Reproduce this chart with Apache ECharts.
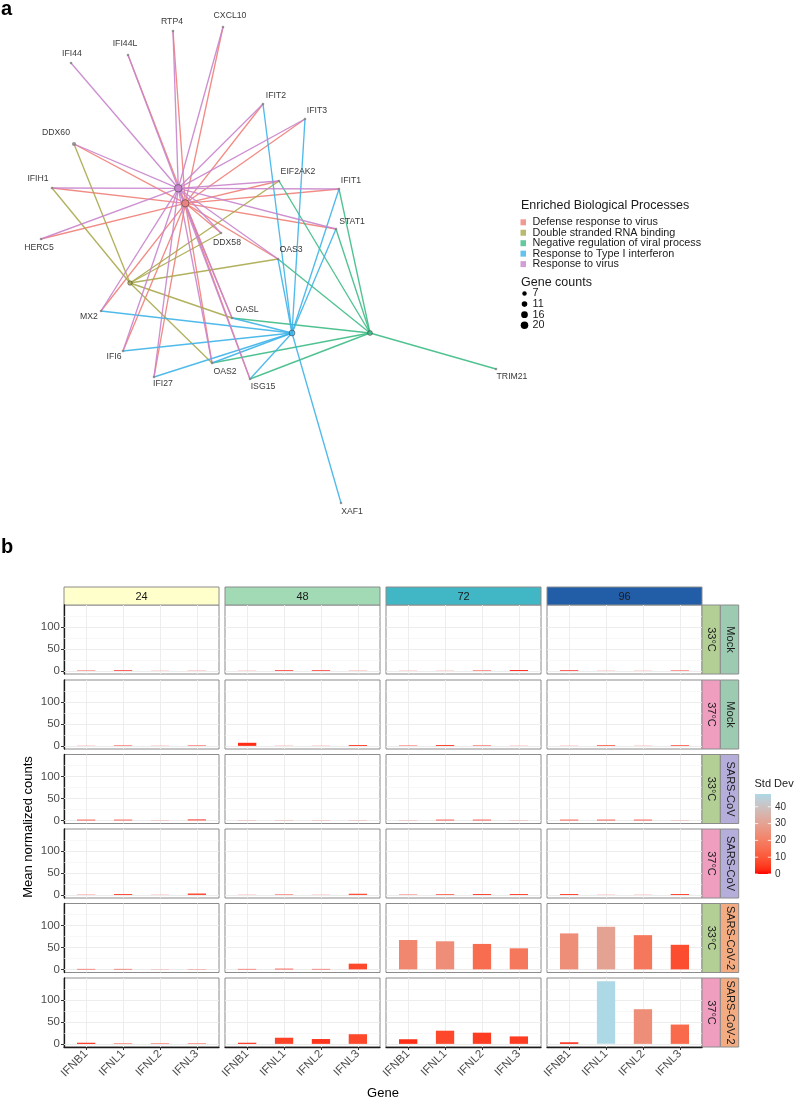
<!DOCTYPE html>
<html><head><meta charset="utf-8">
<script src="https://cdn.jsdelivr.net/npm/echarts@6/dist/echarts.min.js"></script>
<style>html,body{margin:0;padding:0;background:#fff}#c{width:794px;height:1100px}</style>
</head><body><div id="c"></div>
<script>
// ================= DATA: panel a (network) =================
const geneNames = ['RTP4','CXCL10','IFI44L','IFI44','IFIT2','IFIT3','DDX60','EIF2AK2','IFIT1','IFIH1','STAT1','HERC5','DDX58','OAS3','MX2','OASL','IFI6','OAS2','IFI27','ISG15','TRIM21','XAF1'];
// layout coordinates of the gene nodes
const geneX = [173,223,128,71,263,305,74,279,339,52,336,41,221,278,101,232,123,212,154,250,496,341];
const geneY = [31,27,55,63,104,119,144,181,189,188,229,239,233,259,311,318,351,363,377,379,369,503];
const processNames = ['Defense response to virus','Double stranded RNA binding','Negative regulation of viral process','Response to Type I interferon','Response to virus'];
const processX = [185.3,130,370,292,178.3];
const processY = [203.3,283,333,333,188.3];
const genesDefense = ['RTP4','CXCL10','IFI44L','IFIT2','IFIT3','DDX60','EIF2AK2','IFIT1','IFIH1','STAT1','HERC5','DDX58','OAS3','MX2','OASL','IFI6','OAS2','IFI27','ISG15'];
const genesDsRNA = ['DDX60','IFIH1','EIF2AK2','DDX58','OAS3','OASL','OAS2'];
const genesNegReg = ['EIF2AK2','IFIT1','STAT1','OAS3','OASL','OAS2','ISG15','TRIM21'];
const genesTypeI = ['IFIT2','IFIT3','IFIT1','STAT1','OAS3','MX2','IFI6','IFI27','OAS2','ISG15','OASL','XAF1'];
const genesResponse = ['RTP4','CXCL10','IFI44L','IFI44','IFIT2','IFIT3','DDX60','EIF2AK2','IFIT1','IFIH1','STAT1','HERC5','DDX58','OAS3','MX2','OASL','IFI6','OAS2','IFI27','ISG15'];
const geneCountBreaks = [7,11,16,20];

// ================= DATA: panel b (bars) =================
const genes = ['IFNB1','IFNL1','IFNL2','IFNL3'];
const hours = ['24','48','72','96'];
const rowVirus = ['Mock','Mock','SARS-CoV','SARS-CoV','SARS-CoV-2','SARS-CoV-2'];
const rowTemp = ['33°C','37°C','33°C','37°C','33°C','37°C'];
// mean normalized counts: [hour][gene]
const mean_Mock_33 = [[0.8,1.5,0.3,0.4],[0.3,1.5,1.5,0.4],[0.3,0.3,1,2],[1.5,0.3,0.3,1]];
const mean_Mock_37 = [[0.3,1,0.3,1],[7,0.3,0.3,2],[0.8,2,1,0.3],[0.3,1.5,0.3,1.5]];
const mean_SARS_33 = [[1.5,1.5,0.3,2],[0.3,0.3,0.3,0.3],[0.3,1.5,1.5,0.3],[1.5,1.5,1.5,0.3]];
const mean_SARS_37 = [[0.5,2,0.3,3],[0.3,1,0.3,2.5],[0.7,1.5,2,2],[2,0.3,0.3,2]];
const mean_SARS2_33 = [[1,1,0.3,0.5],[1,1.5,1,13],[67,64,58,48],[82,97,78,56]];
const mean_SARS2_37 = [[2.5,1,1,1],[2.5,14,11,22],[10.5,30,25.5,17],[3.5,143,79,44]];
// standard deviations: [hour][gene]
const sd_Mock_33 = [[1,1,0.5,0.5],[0.5,1,1,0.5],[0.5,0.5,1,1],[1,0.5,0.5,1.5]];
const sd_Mock_37 = [[0.5,1.5,0.5,1.5],[3,0.5,0.5,3],[1,3,1.5,0.5],[0.5,3,0.5,3]];
const sd_SARS_33 = [[1,1.5,0.5,1.5],[0.5,0.5,0.5,0.5],[0.5,1,1,0.5],[1,1,1,0.5]];
const sd_SARS_37 = [[1,4,0.5,4],[0.5,2,0.5,4],[1,3,3,3],[3,0.5,0.5,3]];
const sd_SARS2_33 = [[1,1,0.5,0.5],[1,2,1,7],[22,24,15,18],[24,30,18,8]];
const sd_SARS2_37 = [[2,3,3,3],[2,6,4,7],[3,7,5,5],[2,47.6,24,14]];
const yTicks = [0,50,100];
const yMinorTicks = [25,75,125];
const sdTicks = [0,10,20,30,40];

// ================= STYLE / LAYOUT =================
const FONT = '"Liberation Sans", Arial, Helvetica, sans-serif';
const processColors = ['#F08078','#A9A84C','#3DBB85','#3DB3E8','#C884CC'];
const labelOffset = {RTP4:[-1,-9],CXCL10:[7,-11],IFI44L:[-3,-11],IFI44:[1,-9],IFIT2:[13,-8],IFIT3:[12,-8],DDX60:[-18,-11],EIF2AK2:[19,-9],IFIT1:[12,-8],IFIH1:[-14,-9],STAT1:[16,-7],HERC5:[-2,9],DDX58:[6,10],OAS3:[13,-9],MX2:[-12,6],OASL:[15,-8],IFI6:[-9,6],OAS2:[13,9],IFI27:[9,7],ISG15:[13,8],TRIM21:[16,8],XAF1:[11,9]};
const hourColors = ['#FFFFCC','#A1DAB4','#41B6C4','#225EA8'];
const virusColors = {'Mock':'#9DCBB2','SARS-CoV':'#B5AEDA','SARS-CoV-2':'#F3AC82'};
const tempColors = {'33°C':'#B3CF95','37°C':'#F09EC0'};
const colLeft = [64,225,386,547];
const rowTop = [605,680,754.5,829,903.5,978];
const PW = 155, PH = 69;
const Y_MIN = -7.15, Y_MAX = 150.15;
const SD_MAX = 47.6;

// Lab interpolation (red -> lightblue), like ggplot's gradient
function hexToRgb(h){return [parseInt(h.slice(1,3),16),parseInt(h.slice(3,5),16),parseInt(h.slice(5,7),16)];}
function toLab(rgb){
  const lin = rgb.map(c=>{c/=255;return c<=0.04045?c/12.92:Math.pow((c+0.055)/1.055,2.4);});
  const X=(0.4124564*lin[0]+0.3575761*lin[1]+0.1804375*lin[2])/0.95047;
  const Y=(0.2126729*lin[0]+0.7151522*lin[1]+0.0721750*lin[2]);
  const Z=(0.0193339*lin[0]+0.1191920*lin[1]+0.9503041*lin[2])/1.08883;
  const f=t=>t>0.008856?Math.cbrt(t):7.787*t+16/116;
  const fx=f(X),fy=f(Y),fz=f(Z);
  return [116*fy-16,500*(fx-fy),200*(fy-fz)];
}
function fromLab(lab){
  const fy=(lab[0]+16)/116, fx=fy+lab[1]/500, fz=fy-lab[2]/200;
  const fi=t=>t*t*t>0.008856?t*t*t:(t-16/116)/7.787;
  const X=fi(fx)*0.95047,Y=fi(fy),Z=fi(fz)*1.08883;
  const r=3.2404542*X-1.5371385*Y-0.4985314*Z, g=-0.9692660*X+1.8760108*Y+0.0415560*Z, b=0.0556434*X-0.2040259*Y+1.0572252*Z;
  return '#'+[r,g,b].map(c=>{c=c<=0.0031308?12.92*c:1.055*Math.pow(c,1/2.4)-0.055;c=Math.round(Math.max(0,Math.min(1,c))*255);return c.toString(16).padStart(2,'0');}).join('');
}
const labLow = toLab(hexToRgb('#FF0000')), labHigh = toLab(hexToRgb('#ADD8E6'));
const gradColors = [];
for (let i=0;i<=20;i++){const t=i/20;gradColors.push(fromLab([0,1,2].map(k=>labLow[k]+(labHigh[k]-labLow[k])*t)));}

const meanRows = [mean_Mock_33,mean_Mock_37,mean_SARS_33,mean_SARS_37,mean_SARS2_33,mean_SARS2_37];
const sdRows = [sd_Mock_33,sd_Mock_37,sd_SARS_33,sd_SARS_37,sd_SARS2_33,sd_SARS2_37];
const processGeneLists = [genesDefense,genesDsRNA,genesNegReg,genesTypeI,genesResponse];
const sizeOf = n => 1.68*Math.sqrt(n);

// ================= BUILD OPTION =================
const grids=[], xAxes=[], yAxes=[], series=[], graphics=[], barIdx=[];
grids.push({left:0,top:0,width:794,height:540});
xAxes.push({gridIndex:0,type:'value',min:0,max:794,show:false});
yAxes.push({gridIndex:0,type:'value',min:0,max:540,inverse:true,show:false});

processGeneLists.forEach((list,p)=>{
  series.push({type:'lines',coordinateSystem:'cartesian2d',xAxisIndex:0,yAxisIndex:0,silent:true,z:1,
    lineStyle:{color:processColors[p],width:1.35,opacity:0.9},
    data:list.map(g=>{const i=geneNames.indexOf(g);return {coords:[[processX[p],processY[p]],[geneX[i],geneY[i]]]};})});
});
series.push({type:'scatter',xAxisIndex:0,yAxisIndex:0,z:3,silent:true,
  itemStyle:{color:'#7F7F7F'},
  data:geneNames.map((g,i)=>({value:[geneX[i],geneY[i]],name:g,symbolSize:g==='DDX60'?4.2:2.6,
    label:{show:true,position:'inside',offset:labelOffset[g],formatter:g,fontSize:8.7,color:'#000',fontFamily:FONT}}))});
series.push({type:'scatter',xAxisIndex:0,yAxisIndex:0,z:4,silent:true,
  data:processNames.map((n,p)=>({value:[processX[p],processY[p]],name:n,symbolSize:sizeOf(processGeneLists[p].length),
    itemStyle:{color:processColors[p],borderColor:'#3A3A3A',borderWidth:0.7}}))});

for (let r=0;r<6;r++){
  for (let c=0;c<4;c++){
    const gi=grids.length;
    grids.push({left:colLeft[c],top:rowTop[r],width:PW,height:PH,show:true,borderColor:'#8C8C8C',borderWidth:1});
    const bottom = r===5, left = c===0;
    xAxes.push({gridIndex:gi,type:'value',min:0.4,max:4.6,
      axisLine:{show:bottom,onZero:false,lineStyle:{color:'#1A1A1A',width:1.3}},
      axisTick:{show:bottom,customValues:[1,2,3,4],length:3,lineStyle:{color:'#333'}},
      axisLabel:{show:bottom,customValues:[1,2,3,4],formatter:v=>genes[Math.round(v)-1],rotate:45,fontSize:11.5,color:'#4D4D4D',fontFamily:FONT,margin:5},
      splitLine:{show:false}});
    yAxes.push({gridIndex:gi,type:'value',min:Y_MIN,max:Y_MAX,splitNumber:3,
      axisLine:{show:left,onZero:false,lineStyle:{color:'#1A1A1A',width:1.3}},
      axisTick:{show:left,customValues:yTicks,length:3,lineStyle:{color:'#333'}},
      axisLabel:{show:left,customValues:yTicks,fontSize:11.5,color:'#4D4D4D',fontFamily:FONT,margin:4},
      splitLine:{show:false}});
    const ml = [];
    yTicks.forEach(v=>ml.push({yAxis:v,lineStyle:{color:'#EBEBEB',width:0.9,type:'solid'}}));
    yMinorTicks.forEach(v=>ml.push({yAxis:v,lineStyle:{color:'#F3F3F3',width:0.6,type:'solid'}}));
    genes.forEach((g,k)=>ml.push({xAxis:k+1,lineStyle:{color:'#EBEBEB',width:0.9,type:'solid'}}));
    barIdx.push(series.length);
    series.push({type:'bar',xAxisIndex:gi,yAxisIndex:gi,barWidth:18.3,z:2,
      encode:{x:0,y:1},
      itemStyle:{borderWidth:0},
      data:genes.map((g,k)=>[k+1,meanRows[r][c][k],sdRows[r][c][k]]),
      markLine:{z:1,silent:true,symbol:['none','none'],label:{show:false},animation:false,data:ml}});
  }
}

// panel letters
graphics.push({type:'text',x:1,y:9,style:{text:'a',fontSize:20,fontWeight:'bold',fill:'#000',fontFamily:FONT,verticalAlign:'middle'}});
graphics.push({type:'text',x:1,y:547,style:{text:'b',fontSize:20,fontWeight:'bold',fill:'#000',fontFamily:FONT,verticalAlign:'middle'}});

// network legend
graphics.push({type:'text',x:521,y:206,style:{text:'Enriched Biological Processes',fontSize:12.5,fill:'#1A1A1A',fontFamily:FONT,verticalAlign:'middle'}});
processNames.forEach((n,p)=>{
  const y=222.3+p*10.45;
  graphics.push({type:'rect',shape:{x:520.5,y:y-3,width:5.5,height:6},style:{fill:processColors[p],opacity:0.8}});
  graphics.push({type:'text',x:532.5,y:y,style:{text:n,fontSize:10.8,fill:'#1A1A1A',fontFamily:FONT,verticalAlign:'middle'}});
});
graphics.push({type:'text',x:521,y:283,style:{text:'Gene counts',fontSize:12.5,fill:'#1A1A1A',fontFamily:FONT,verticalAlign:'middle'}});
geneCountBreaks.forEach((n,k)=>{
  const y=293.5+k*10.6;
  graphics.push({type:'circle',shape:{cx:524.5,cy:y,r:sizeOf(n)/2},style:{fill:'#000'}});
  graphics.push({type:'text',x:532.5,y:y,style:{text:String(n),fontSize:10.8,fill:'#1A1A1A',fontFamily:FONT,verticalAlign:'middle'}});
});

// facet strips
hours.forEach((h,c)=>{
  graphics.push({type:'rect',shape:{x:colLeft[c],y:587,width:PW,height:18},style:{fill:hourColors[c],stroke:'#8C8C8C',lineWidth:1}});
  graphics.push({type:'text',x:colLeft[c]+PW/2,y:596.5,style:{text:h,fontSize:11,fill:'#1A1A1A',fontFamily:FONT,align:'center',verticalAlign:'middle'}});
});
for (let r=0;r<6;r++){
  graphics.push({type:'rect',shape:{x:702,y:rowTop[r],width:18.3,height:PH},style:{fill:tempColors[rowTemp[r]],stroke:'#8C8C8C',lineWidth:1}});
  graphics.push({type:'rect',shape:{x:720.4,y:rowTop[r],width:18.3,height:PH},style:{fill:virusColors[rowVirus[r]],stroke:'#8C8C8C',lineWidth:1}});
  graphics.push({type:'text',x:711.2,y:rowTop[r]+PH/2,rotation:-Math.PI/2,style:{text:rowTemp[r],fontSize:11,fill:'#1A1A1A',fontFamily:FONT,align:'center',verticalAlign:'middle'}});
  graphics.push({type:'text',x:729.6,y:rowTop[r]+PH/2,rotation:-Math.PI/2,style:{text:rowVirus[r],fontSize:11,fill:'#1A1A1A',fontFamily:FONT,align:'center',verticalAlign:'middle'}});
}
// axis titles
graphics.push({type:'text',x:28,y:827,rotation:Math.PI/2,style:{text:'Mean normalized counts',fontSize:13,fill:'#000',fontFamily:FONT,align:'center',verticalAlign:'middle'}});
graphics.push({type:'text',x:383,y:1093,style:{text:'Gene',fontSize:13,fill:'#000',fontFamily:FONT,align:'center',verticalAlign:'middle'}});

// Std Dev colourbar
const CB_X=755, CB_Y=794, CB_W=16, CB_H=80;
graphics.push({type:'text',x:754.5,y:784,style:{text:'Std Dev',fontSize:11,fill:'#1A1A1A',fontFamily:FONT,verticalAlign:'middle'}});
graphics.push({type:'rect',shape:{x:CB_X,y:CB_Y,width:CB_W,height:CB_H},
  style:{fill:{type:'linear',x:0,y:1,x2:0,y2:0,colorStops:gradColors.map((col,i)=>({offset:i/20,color:col}))}}});
sdTicks.forEach(v=>{
  const y=CB_Y+CB_H-v/SD_MAX*CB_H;
  graphics.push({type:'line',shape:{x1:CB_X,y1:y,x2:CB_X+3.2,y2:y},style:{stroke:'#fff',lineWidth:0.8}});
  graphics.push({type:'line',shape:{x1:CB_X+CB_W-3.2,y1:y,x2:CB_X+CB_W,y2:y},style:{stroke:'#fff',lineWidth:0.8}});
  graphics.push({type:'text',x:775,y:y,style:{text:String(v),fontSize:10,fill:'#333',fontFamily:FONT,verticalAlign:'middle'}});
});

const chart = echarts.init(document.getElementById('c'),null,{renderer:'canvas'});
chart.setOption({
  animation:false,
  backgroundColor:'#fff',
  grid:grids, xAxis:xAxes, yAxis:yAxes,
  visualMap:{type:'continuous',show:false,min:0,max:SD_MAX,dimension:2,seriesIndex:barIdx,inRange:{color:gradColors}},
  series:series,
  graphic:{elements:graphics}
});
</script></body></html>
